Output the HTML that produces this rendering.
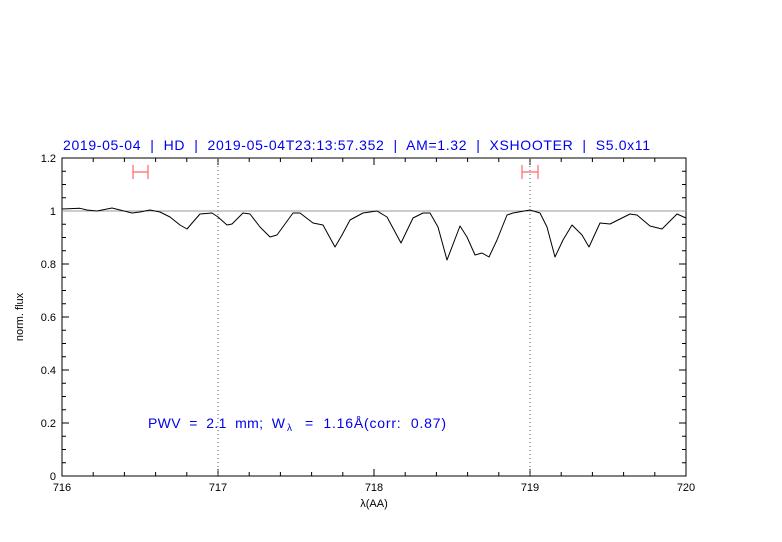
<!DOCTYPE html>
<html><head><style>body{margin:0;background:#fff}svg{display:block}text{font-family:"Liberation Sans",sans-serif}</style></head><body>
<svg width="782" height="542" viewBox="0 0 782 542" xmlns="http://www.w3.org/2000/svg">
<rect width="782" height="542" fill="#fff"/>
<text x="63" y="150" fill="#0000ee" font-size="14" textLength="587" lengthAdjust="spacing" xml:space="preserve">2019-05-04  |  HD  |  2019-05-04T23:13:57.352  |  AM=1.32  |  XSHOOTER  |  S5.0x11</text>
<g stroke="#000" stroke-width="1" fill="none">
<rect x="62" y="158" width="624" height="318"/>
<path d="M93.2,476v-4M124.4,476v-4M155.6,476v-4M186.8,476v-4M249.2,476v-4M280.4,476v-4M311.6,476v-4M342.8,476v-4M405.2,476v-4M436.4,476v-4M467.6,476v-4M498.8,476v-4M561.2,476v-4M592.4,476v-4M623.6,476v-4M654.8,476v-4M218,476v-7M374,476v-7M530,476v-7
M93.2,158v4M124.4,158v4M155.6,158v4M186.8,158v4M249.2,158v4M280.4,158v4M311.6,158v4M342.8,158v4M405.2,158v4M436.4,158v4M467.6,158v4M498.8,158v4M561.2,158v4M592.4,158v4M623.6,158v4M654.8,158v4M218,158v7M374,158v7M530,158v7"/>
<path d="M62,462.75h4M62,449.5h4M62,436.25h4M62,409.75h4M62,396.5h4M62,383.25h4M62,356.75h4M62,343.5h4M62,330.25h4M62,303.75h4M62,290.5h4M62,277.25h4M62,250.75h4M62,237.5h4M62,224.25h4M62,197.75h4M62,184.5h4M62,171.25h4M62,423h7M62,370h7M62,317h7M62,264h7M62,211h7
M686,462.75h-4M686,449.5h-4M686,436.25h-4M686,409.75h-4M686,396.5h-4M686,383.25h-4M686,356.75h-4M686,343.5h-4M686,330.25h-4M686,303.75h-4M686,290.5h-4M686,277.25h-4M686,250.75h-4M686,237.5h-4M686,224.25h-4M686,197.75h-4M686,184.5h-4M686,171.25h-4M686,423h-7M686,370h-7M686,317h-7M686,264h-7M686,211h-7"/>
</g>
<path d="M218,158V476M530,158V476" stroke="#555" stroke-width="1" stroke-dasharray="1,3"/>
<line x1="62" y1="211" x2="686" y2="211" stroke="#999" stroke-width="1"/>
<g stroke="#f66" stroke-width="1.2" fill="none"><path d="M133,172h15M133,165v14M148,165v14M522,172h16M522,165v14M538,165v14"/></g>
<polyline fill="none" stroke="#000" stroke-width="1" stroke-linejoin="round" points="62,209 80,208.3 87,210 97,211 112,208 120,210 132,213 140,212 150,210 160,212 170,217 180,225 187,229 193,222 200,214 212,213 218,217 227,225 232,224 243,213 250,214 260,227 270,237 277,235 293,213 300,213 313,223 323,225 335,247 342,235 350,220 363,213 377,211 387,217 401,243 413,218 423,213 430,213 438,227 447,260 460,226 467,237 475,255 482,253 489,257 497,240 507,215 513,213 530,210 540,213 547,227 555,257 563,240 572,225 582,235 589,247 600,223 610,224 630,214 637,215 650,226 662,229 677,214 686,218"/>
<g font-size="11" text-anchor="end"><text x="56" y="480">0</text><text x="56" y="427">0.2</text><text x="56" y="374">0.4</text><text x="56" y="321">0.6</text><text x="56" y="268">0.8</text><text x="56" y="215">1</text><text x="56" y="162">1.2</text></g>
<g font-size="11" text-anchor="middle"><text x="62" y="491">716</text><text x="218" y="491">717</text><text x="374" y="491">718</text><text x="530" y="491">719</text><text x="686" y="491">720</text>
<text x="374" y="507">λ(AA)</text></g>
<text transform="translate(23,317) rotate(-90)" font-size="11" text-anchor="middle">norm. flux</text>
<g fill="#0000ee" font-size="14">
<text x="148" y="428" textLength="137" lengthAdjust="spacing" xml:space="preserve">PWV  =  2.1  mm;  W</text>
<text x="287" y="431" font-size="10">λ</text>
<text x="305" y="428" textLength="141" lengthAdjust="spacing" xml:space="preserve">=  1.16Å(corr:  0.87)</text>
</g>
</svg>
</body></html>
